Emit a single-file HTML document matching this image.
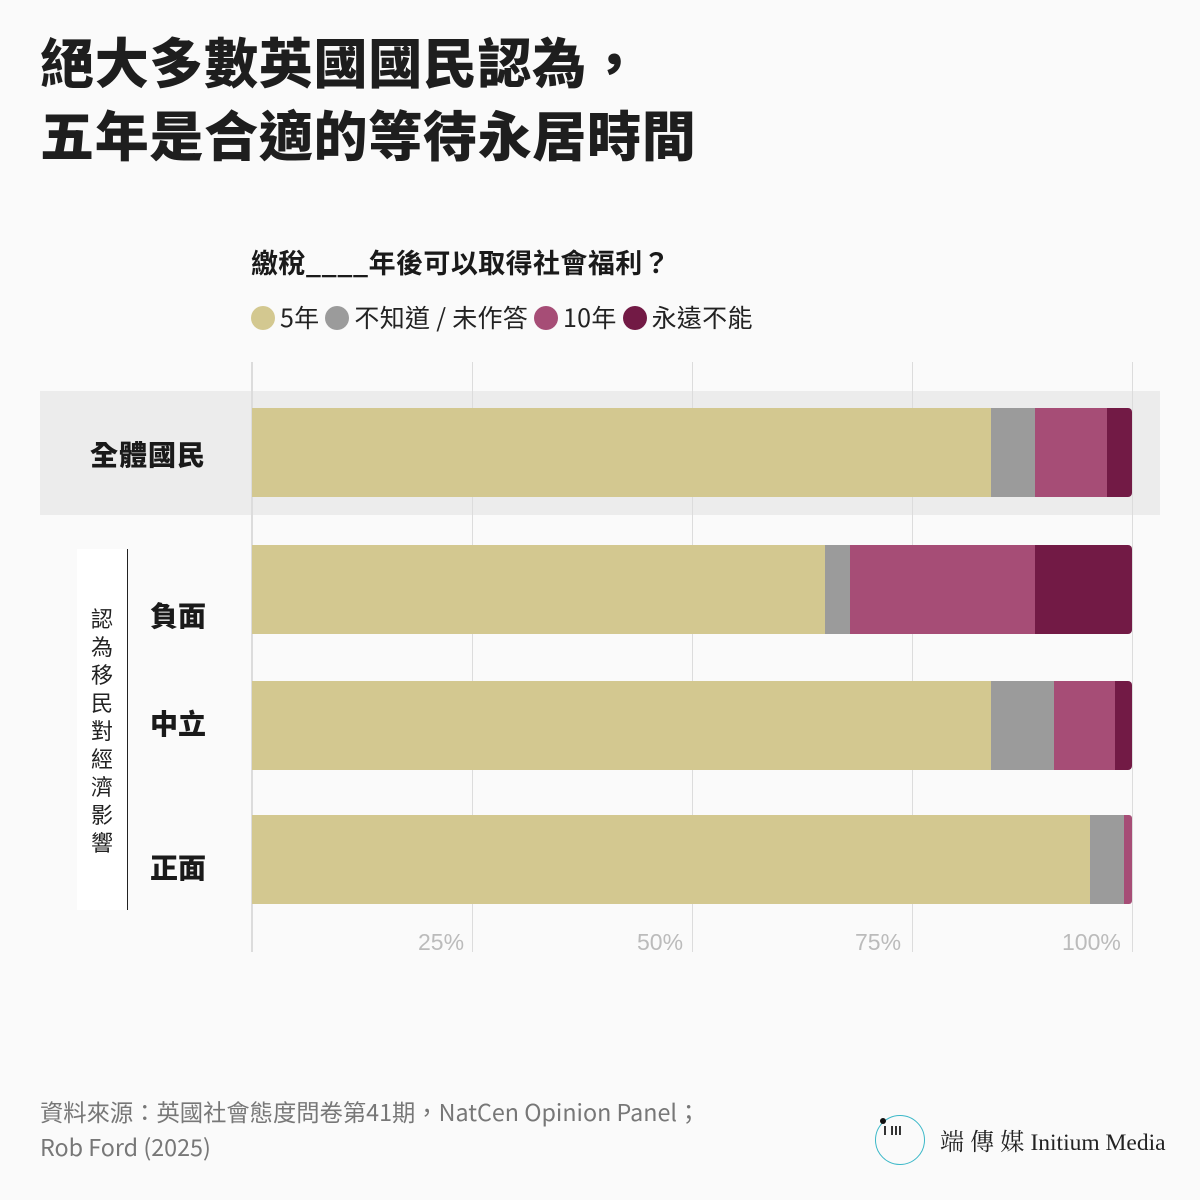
<!DOCTYPE html>
<html><head><meta charset="utf-8"><style>
body{margin:0;background:#fafafa;}
.p{position:relative;width:1200px;height:1200px;background:#fafafa;font-family:"Liberation Sans","Noto Sans CJK TC",sans-serif;color:#1a1a1a;overflow:hidden}
.a{position:absolute}
h1{position:absolute;left:40px;top:23px;margin:0;font-size:54px;line-height:73px;font-weight:900;font-family:"Noto Sans CJK TC",sans-serif;color:#1e1e1e;letter-spacing:0.7px}
.g{position:absolute;top:362px;width:1px;height:590px;background:#dcdcdc}
.b{position:absolute;height:89px}
.t{position:absolute;font-size:23px;color:#bbb;top:929px}
.lab{position:absolute;font-size:28px;font-weight:900;font-family:"Noto Sans CJK TC",sans-serif}
.dot{display:inline-block;width:24px;height:24px;border-radius:50%;vertical-align:-3px;margin-right:5px}
</style></head><body><div class="p">
<h1>絕大多數英國國民認為，<br>五年是合適的等待永居時間</h1>
<div class="a" style="left:251px;top:242px;font-size:27px;font-weight:700;font-family:'Noto Sans CJK TC',sans-serif;letter-spacing:0.4px">繳稅____年後可以取得社會福利？</div>
<div class="a" style="left:251px;top:299px;font-size:25px;font-family:'Noto Sans CJK TC',sans-serif;color:#222;letter-spacing:0.3px">
<span class="dot" style="background:#d3c890"></span>5年 <span class="dot" style="background:#9b9b9b"></span>不知道 / 未作答 <span class="dot" style="background:#a64d76"></span>10年 <span class="dot" style="background:#721a45"></span>永遠不能</div>
<div class="a" style="left:40px;top:391px;width:1120px;height:124px;background:#ececec"></div>
<div class="g" style="left:251px;width:2px"></div><div class="g" style="left:472px"></div><div class="g" style="left:692px"></div><div class="g" style="left:912px"></div><div class="g" style="left:1132px"></div>
<div class="t" style="left:418px">25%</div><div class="t" style="left:637px">50%</div><div class="t" style="left:855px">75%</div><div class="t" style="left:1062px">100%</div>
<div class="b" style="top:408px;left:252px;width:739px;background:#d3c890"></div>
<div class="b" style="top:408px;left:991px;width:44px;background:#9b9b9b"></div>
<div class="b" style="top:408px;left:1035px;width:72px;background:#a64d76"></div>
<div class="b" style="top:408px;left:1107px;width:25px;background:#721a45;border-radius:0 4px 4px 0"></div>
<div class="b" style="top:545px;left:252px;width:573px;background:#d3c890"></div>
<div class="b" style="top:545px;left:825px;width:25px;background:#9b9b9b"></div>
<div class="b" style="top:545px;left:850px;width:185px;background:#a64d76"></div>
<div class="b" style="top:545px;left:1035px;width:97px;background:#721a45;border-radius:0 4px 4px 0"></div>
<div class="b" style="top:681px;left:252px;width:739px;background:#d3c890"></div>
<div class="b" style="top:681px;left:991px;width:63px;background:#9b9b9b"></div>
<div class="b" style="top:681px;left:1054px;width:61px;background:#a64d76"></div>
<div class="b" style="top:681px;left:1115px;width:17px;background:#721a45;border-radius:0 4px 4px 0"></div>
<div class="b" style="top:815px;left:252px;width:838px;background:#d3c890"></div>
<div class="b" style="top:815px;left:1090px;width:34px;background:#9b9b9b"></div>
<div class="b" style="top:815px;left:1124px;width:8px;background:#a64d76;border-radius:0 3px 3px 0"></div>
<div class="lab" style="left:90px;top:434px;letter-spacing:1px">全體國民</div>
<div class="lab" style="left:150px;top:595px">負面</div>
<div class="lab" style="left:150px;top:703px">中立</div>
<div class="lab" style="left:150px;top:847px">正面</div>
<div class="a" style="left:77px;top:549px;width:50px;height:361px;background:#fff;border-right:1.5px solid #222"></div>
<div class="a" style="left:88px;top:604px;width:28px;font-size:22px;line-height:28px;text-align:center;font-family:'Noto Sans CJK TC',sans-serif;color:#222">認<br>為<br>移<br>民<br>對<br>經<br>濟<br>影<br>響</div>
<div class="a" style="left:40px;top:1094px;font-size:23.3px;line-height:35px;color:#777;font-family:'Noto Sans CJK TC',sans-serif">資料來源：英國社會態度問卷第41期，NatCen Opinion Panel；<br>Rob Ford (2025)</div>
<div class="a" style="left:875px;top:1115px;width:48px;height:48px;border:1.5px solid #3bb8c8;border-radius:50%"></div>
<div class="a" style="left:880px;top:1118px;width:6px;height:6px;background:#111;border-radius:50%"></div>
<div class="a" style="left:879px;top:1122px;font-size:12px;font-weight:700;letter-spacing:-1px">ⅠⅢ</div>
<div class="a" style="left:940px;top:1122px;font-size:24px;font-family:'Noto Serif CJK SC','Liberation Serif',serif;color:#222">端 傳 媒 <span style="font-family:'Liberation Serif',serif;font-size:23.5px">Initium Media</span></div>
</div></body></html>
